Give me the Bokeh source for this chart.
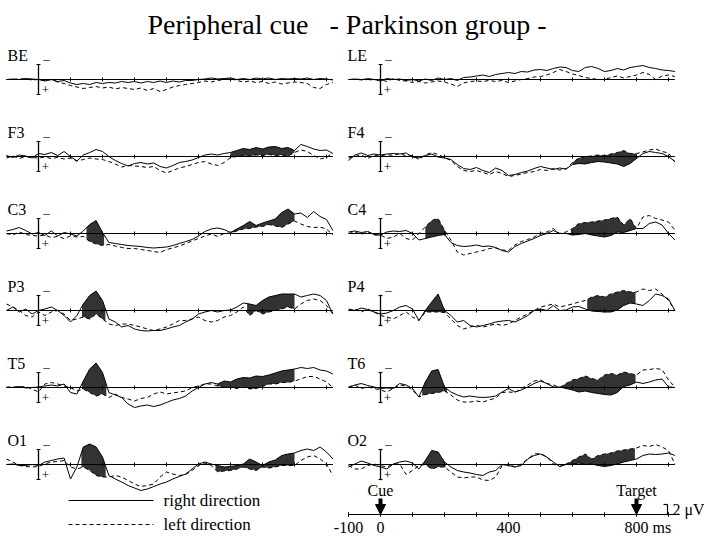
import numpy as np
from bokeh.plotting import figure
from bokeh.models import Range1d, Arrow, NormalHead
from bokeh.core.properties import value
from bokeh.embed import file_html
from bokeh.resources import INLINE

# sample times (ms) of every trace
times = list(range(-100, 921, 20))

# ERP amplitudes in microvolts (negative plotted upward); "right" = right direction (solid), "left" = left direction (dashed)
BE_right = [0, -0.1, 0, -0.2, -0.1, 0, 0.3, 0, 0.4, 0.2, 0.7, 1.0, 0.8, 1.0, 0.6, 0.8, 0.6, 0.7, 0.4, 0.6,
            0.4, 0.7, 0.4, 0.6, 0.3, 0.6, 0.3, 0.5, 0.2, 0.2, 0, -0.1, -0.3, -0.1, -0.2, -0.3, 0, -0.2, 0, -0.3,
            -0.1, -0.3, 0, -0.2, -0.1, -0.2, -0.1, -0.3, 0, -0.2, -0.1, 0.1]
BE_left = [0, 0, -0.1, -0.1, 0.1, 0, 0.2, 0, 0.5, 0.8, 1.2, 1.5, 1.8, 1.6, 1.4, 1.7, 1.5, 1.9, 1.6, 1.8,
           2.0, 1.7, 2.2, 1.8, 2.4, 2.0, 1.5, 1.2, 1.0, 0.8, 0.6, 0.3, 0.5, 0.2, 0, -0.2, 0.2, 0.5, 0.3, 0.6,
           0.4, 0.8, 0.5, 0.9, 0.7, 0.5, 0.6, 0.8, 1.6, 1.8, 1.0, 0.6]
LE_right = [0, -0.1, 0.1, -0.2, 0, 0.3, -0.2, 0, -0.1, 0.2, 0, 0.3, -0.1, 0.2, -0.3, 0, -0.2, 0.2, -0.4, -0.5,
            -0.7, -0.9, -0.6, -1.0, -1.2, -1.4, -1.2, -1.6, -1.5, -1.9, -2.0, -1.8, -2.2, -2.5, -2.4,
            -1.8, -1.6, -2.4, -2.6, -2.2, -1.6, -1.8, -2.2, -1.9, -2.4, -2.6, -2.8, -2.4, -2.2, -1.9, -1.8, -1.6]
LE_left = [0, 0, -0.1, 0.1, 0, 0, 0.4, -0.2, 0.2, 0.3, 0.6, 0.4, 0.7, 0.5, 0.3, 0.5, 0.9, 1.4, 0.7, 0.4,
           0.3, 0.4, 0.2, 0.4, 0.2, 0.6, 0.3, 0, -0.2, -0.5, -0.6, -0.9, -1.4, -2.0, -1.6, -1.1, -0.8, -0.4, -0.2, 0,
           0, -0.4, -0.7, -0.3, -0.6, -0.9, -1.4, -1.0, 0, -0.7, -0.9, -0.6]
F3_right = [-0.2, 0.2, -0.3, -0.1, 0.3, -0.6, -0.4, -0.8, -0.2, -1.0, 0, 0.9, -0.3, -0.8, -1.4, -1.0, 0, 0.8, 1.4, 1.9,
            1.4, 1.2, 1.5, 1.3, 2.0, 2.3, 1.8, 1.2, 1.0, 0.7, 0.2, -0.3, -0.5, -0.3, -0.6, -0.8, -1.2, -1.6, -1.4, -1.8,
            -1.5, -1.9, -2.0, -1.6, -1.8, -1.2, -2.4, -2.0, -1.5, -1.2, -1.3, -0.6]
F3_left = [0.3, -0.1, 0.4, 0, 0.2, 0.3, 0.1, 0.4, 0.2, 0.5, 0.3, 0.9, 0.6, 0.3, 0.5, 0.6, 1.0, 1.5, 2.1, 1.8,
           1.9, 2.0, 2.2, 2.0, 2.8, 3.3, 2.8, 2.3, 2.0, 1.6, 1.2, 1.0, 1.5, 1.8, 1.2, 0.2, 0, -0.2, -0.1, -0.3,
           -0.2, -0.4, -0.2, -0.3, -0.1, -0.8, -1.3, -1.0, -0.2, 0.5, 0.2, -0.7]
F4_right = [0.8, -0.3, -0.7, -0.2, -0.5, -0.3, -0.5, -0.6, -0.5, -0.7, 0.1, 0.3, -0.2, -0.5, 0.1, 0.3, 0.6, 1.6, 2.4, 2.6,
            2.2, 2.8, 3.2, 2.3, 2.8, 3.8, 3.6, 3.2, 2.9, 2.4, 2.0, 2.3, 2.6, 2.3, 2.5, 1.6, 1.4, 1.5, 1.2, 1.0,
            1.1, 1.3, 1.5, 2.0, 1.4, 0.4, -0.6, -1.0, -0.8, -0.6, 0, 1.0]
F4_left = [0.3, 0, -0.3, 0.4, -0.2, -0.1, -0.4, -0.2, -0.6, -0.1, -0.2, 0.6, -0.3, -0.8, -0.4, 0.2, 0.8, 2.0, 2.8, 3.0,
           2.8, 3.2, 3.6, 3.0, 3.4, 4.0, 3.8, 3.5, 3.2, 3.0, 2.6, 2.8, 2.4, 2.7, 2.5, 1.2, 0.3, 0, -0.1, -0.3,
           -0.2, -0.5, -0.8, -1.2, -0.6, -0.6, -0.9, -1.3, -1.5, -1.0, -0.7, 1.1]
C3_right = [-0.5, -0.8, -1.2, -0.6, 0.1, -0.2, 0.4, -0.5, 0.5, -0.2, 0.1, 0.5, -0.5, -1.8, -2.6, -0.2, 1.8, 2.0, 2.2, 2.4,
            2.5, 2.6, 2.8, 2.9, 2.8, 2.7, 2.4, 2.0, 1.6, 1.2, 0.5, -0.4, -0.9, -1.1, -0.8, -0.2, -0.9, -1.6, -2.4, -1.6,
            -2.1, -2.5, -2.9, -4.2, -4.9, -3.9, -4.1, -3.2, -4.4, -3.4, -2.8, -0.6]
C3_left = [0, 0.3, -0.3, 0.2, 0.4, 0.5, 0.3, 0.8, 0.6, 1.0, 0.5, 0.7, 0.6, 1.6, 2.1, 2.4, 2.2, 2.5, 2.8, 3.0,
           3.0, 3.2, 3.4, 3.6, 3.8, 3.2, 2.9, 2.5, 2.0, 1.5, 1.0, 0.5, 0.1, 0.6, 0, -0.1, -0.5, -0.9, -1.0, -1.3,
           -1.4, -1.8, -1.5, -1.2, -1.9, -2.5, -1.9, -1.4, -1.2, -1.3, -0.9, 0.3]
C4_right = [-0.3, -0.5, -0.2, -0.4, 0.2, 0.3, -0.3, -0.5, -0.4, -0.6, 0, 1.3, 1.0, 0.7, 0.4, 0.2, 1.8, 2.4, 2.6, 2.5,
            2.3, 2.6, 2.5, 2.8, 3.4, 3.7, 2.6, 2.0, 1.5, 1.0, 0.4, 0, -0.6, 0, 0, 0.3, 0.2, 0, 0.3, 0.5,
            0.7, 0.4, -0.3, -0.2, -0.6, -1.0, -1.0, -2.0, -2.3, -1.7, 0, 1.3]
C4_left = [0, -0.3, 0.2, -0.4, 0.3, 0.3, 1.0, 0.7, 0, 1.0, 1.3, 0, -1.3, -2.6, -3.0, -0.7, 1.3, 3.7, 4.3, 4.0,
           3.7, 3.4, 3.0, 2.9, 3.3, 3.4, 2.3, 1.6, 1.2, 0.7, 0, -0.3, -1.0, 0, -0.3, -1.0, -2.0, -2.2, -2.3, -2.5,
           -2.7, -3.0, -3.3, -1.7, -3.0, -1.0, -3.3, -3.6, -3.0, -2.7, -2.3, -0.7]
P3_right = [0, -0.7, 0.3, -0.3, 0.7, 0, -0.3, -0.7, 0, 1.0, 2.3, 1.0, -1.3, -3.0, -3.9, -2.0, 1.7, 2.3, 3.3, 3.0,
            3.7, 4.0, 4.1, 4.0, 4.0, 3.7, 3.3, 3.0, 2.3, 1.7, 0.7, 0.3, 0, 0.3, 0, -0.1, -0.7, -1.5, -1.3, -1.0,
            -2.0, -2.7, -3.0, -3.3, -3.3, -3.3, -2.7, -3.0, -3.3, -3.0, -2.0, 0.7]
P3_left = [-1.3, -0.7, 0, 1.0, 1.3, 0.3, 1.0, 0.3, 0, 0.7, 2.0, 1.7, 1.3, 1.7, 0.7, 1.7, 2.7, 3.0, 2.7, 2.7,
           3.0, 3.3, 3.7, 4.0, 3.7, 3.3, 2.7, 2.0, 2.0, 1.7, 1.3, 2.0, 2.3, 2.0, 1.3, 1.0, 0.3, -0.7, 1.0, 0,
           0.7, 0.3, 0, -0.3, -0.7, -0.3, -1.3, -2.0, -2.3, -2.0, -1.0, 0.7]
P4_right = [-0.3, 0, -0.5, -0.2, 0.3, 0.7, 0.5, 0, -0.7, -1.0, -0.3, 2.0, 0, -1.7, -3.3, 0, 1.0, 2.3, 2.0, 3.0,
            3.3, 3.0, 2.7, 2.3, 2.1, 2.0, 2.3, 1.7, 1.0, 0, -0.3, 0, -1.0, 0, -0.1, -0.7, -0.8, -0.3, 0.1, 0.2,
            0.3, 0.3, -0.1, -1.0, -1.5, -1.3, -1.0, -2.0, -3.3, -3.0, -2.3, 0]
P4_left = [0, -0.3, 0.3, -0.3, 0.3, 1.0, 1.3, 1.7, 1.0, 0.3, 1.3, 2.0, 0.3, 0.3, 0.3, 0.4, 1.7, 3.0, 3.7, 3.3,
           3.0, 3.3, 3.0, 2.7, 3.0, 2.7, 2.0, 1.3, 0.7, 0, -0.7, -1.0, -1.3, -0.7, -1.0, -1.3, -1.7, -2.0, -2.7, -3.0,
           -2.7, -3.3, -3.7, -4.0, -3.7, -3.7, -4.3, -4.0, -4.3, -3.3, -2.0, 0]
T5_right = [-0.1, 0, -0.2, 0.1, 0, -0.1, -0.3, -0.5, -0.3, -0.7, 1.0, 1.3, -1.3, -3.7, -4.9, -3.0, 1.0, 1.5, 2.0, 3.3,
            4.0, 3.7, 3.5, 3.8, 3.5, 3.0, 2.5, 2.2, 1.7, 0.7, 0, -0.7, -1.0, -0.7, -1.3, -1.1, -1.7, -2.0, -1.9, -2.3,
            -2.2, -2.5, -2.9, -3.3, -3.5, -3.7, -4.0, -3.8, -4.0, -3.5, -3.3, -2.7]
T5_left = [0, -0.1, -0.1, -0.2, 0.3, 0.9, -0.7, -1.0, -0.7, -0.3, 0, 0.7, 0.3, 1.0, 1.7, 1.3, 2.0, 1.3, 2.0, 2.3,
           2.7, 2.2, 2.0, 1.3, 0.9, 1.3, 1.1, 0.9, 0.7, 0, -0.3, -0.7, -0.7, -0.3, 0, 0, 0.2, -0.3, 0.3, 0.2,
           -0.2, -0.7, -0.7, -1.0, -1.0, -1.3, -1.7, -2.2, -2.2, -1.7, -1.1, 0]
T6_right = [0, -0.5, -0.8, -0.4, -0.1, 0.2, 0.1, 0.2, -0.8, -0.5, 0.2, 1.9, -1.1, -3.3, -3.6, -0.1, 0.9, 1.5, 1.9, 1.7,
            1.9, 2.0, 1.9, 1.7, 0.9, 0.2, 0.9, 0.5, -0.1, -0.8, -1.3, -0.8, -0.1, -0.1, 0.2, 0.5, 0.9, 0.7, 1.0, 1.2,
            1.4, 1.5, 1.0, -0.2, -0.5, -1.1, -0.8, -1.1, -1.5, -1.7, -0.1, 0]
T6_left = [-0.1, -0.5, 0.2, -0.1, 0.2, 0.5, 0.9, 0.2, -0.5, -0.3, 0.5, 1.9, 1.4, 1.2, 1.0, 0.7, 1.5, 2.5, 2.9, 2.9,
           2.7, 2.9, 2.5, 2.1, 1.0, 0.9, 1.0, 0.2, -0.5, -1.3, -1.5, -0.8, -0.5, 0, -0.8, -1.5, -1.8, -2.3, -1.8, -1.5,
           -2.5, -2.8, -2.5, -3.1, -2.8, -2.5, -3.5, -3.6, -3.8, -3.6, -1.5, -0.1]
O1_right = [0, -0.1, 0.2, 0.2, 0, 0.2, -0.5, -0.8, -1.1, -1.3, 2.9, 0.5, -3.5, -4.1, -3.5, -1.5, 2.2, 2.9, 3.5, 4.2,
            4.7, 5.2, 4.9, 4.4, 3.9, 3.5, 2.9, 2.4, 1.9, 0.9, -0.1, -0.5, -0.1, 0.2, 0.5, 0.4, 0.2, -0.1, -1.1, -0.5,
            0.2, -0.5, -0.9, -1.8, -2.1, -2.3, -2.8, -3.1, -2.8, -3.5, -2.5, -1.1]
O1_left = [-1.1, -0.5, 0.2, 0.4, 0.5, 0.4, -0.1, -0.5, -0.6, -0.8, 0.5, 0.9, 0.5, 1.2, 2.2, 2.5, 2.5, 2.2, 2.5, 3.2,
           3.9, 4.4, 4.2, 3.9, 2.5, 1.5, 1.9, 2.2, 2.0, 1.2, 0.2, -0.3, 0.2, 1.5, 1.3, 1.2, 0.9, 0.5, 0.9, 1.2,
           0.5, 0.7, 0.5, 0.2, 0.2, 0.2, -0.8, -1.5, -1.8, -1.1, -0.1, 2.2]
O2_right = [0.5, -0.1, -0.7, -0.3, 0.2, 0.5, 0.9, -0.1, -0.5, -0.7, -0.3, 0.9, -0.8, -2.8, -2.5, -0.5, 0.5, 1.2, 1.5, 1.7,
            2.0, 2.2, 1.5, 1.2, 0, 0.2, 0.5, 0.2, -1.1, -1.8, -2.1, -1.5, -0.5, 0.4, 0, -0.1, -0.3, 0, -0.1, 0.2,
            0.4, 0.2, -0.1, -0.5, -0.8, -1.1, -1.8, -2.1, -2.0, -2.1, -2.3, -1.8]
O2_left = [0.2, 0.9, 0.9, 0.2, -0.1, 0.2, 0.5, -0.1, -0.1, 2.0, 1.2, 0.2, 0, 0.9, 0.5, 0.5, 1.5, 2.5, 2.7, 2.5,
           2.5, 3.1, 3.2, 2.5, 0.2, -0.1, 0.5, -0.1, -1.1, -2.1, -2.2, -1.5, -0.1, 0.4, -0.1, -0.8, -1.5, -2.1, -1.1, -1.8,
           -2.1, -2.3, -2.7, -2.9, -3.1, -3.3, -3.8, -3.6, -4.0, -3.5, -2.8, -0.1]

# significant intervals (ms) shaded between the two traces
BE_sig = []
LE_sig = []
F3_sig = [(600, 800)]
F4_sig = [(600, 800)]
C3_sig = [(150, 205), (600, 800)]
C4_sig = [(140, 205), (595, 797)]
P3_sig = [(136, 209), (652, 800)]
P4_sig = [(135, 203), (646, 797)]
T5_sig = [(136, 212), (558, 800)]
T6_sig = [(130, 208), (557, 797)]
O1_sig = [(134, 210), (553, 800)]
O2_sig = [(130, 203), (560, 795)]

channels = ["BE", "LE", "F3", "F4", "C3", "C4", "P3", "P4", "T5", "T6", "O1", "O2"]
right_dir = [BE_right, LE_right, F3_right, F4_right, C3_right, C4_right, P3_right, P4_right, T5_right, T6_right, O1_right, O2_right]
left_dir = [BE_left, LE_left, F3_left, F4_left, C3_left, C4_left, P3_left, P4_left, T5_left, T6_left, O1_left, O2_left]
sigs = [BE_sig, LE_sig, F3_sig, F4_sig, C3_sig, C4_sig, P3_sig, P4_sig, T5_sig, T6_sig, O1_sig, O2_sig]

axis_ticks = list(range(-100, 901, 100))
axis_labels = {-100: "-100", 0: "0", 400: "400", 800: "800"}
cue_time = 0
target_time = 800
scale_uv = 2
legend_labels = ["right direction", "left direction"]
title_parts = ["Peripheral cue", "- Parkinson group -"]

# ---------------- layout ----------------
W, H = 704, 535
PX_MS = 0.32     # pixels per millisecond
PX_UV = 5.0      # pixels per microvolt
X0 = -38 / PX_MS


def X(px):
    return X0 + px / PX_MS


def Y(py):
    return py / PX_UV


FONT = value("Liberation Serif")
INK = "black"
SHADE = "#333333"

p = figure(width=W, height=H, x_range=Range1d(X0, X0 + W / PX_MS), y_range=Range1d(H / PX_UV, 0),
           output_backend="svg", toolbar_location=None, x_axis_location=None, y_axis_location=None,
           min_border=0)
p.grid.visible = False
p.outline_line_color = None
p.background_fill_color = "white"


def txt(x, y, s, size, align="left", baseline="middle"):
    p.text(x=[x], y=[y], text=[s], text_font=FONT, text_font_size=f"{size}px",
           text_align=align, text_baseline=baseline, text_color=INK)


col_off = [X(38), X(380)]
row_base = [Y(79 + 77 * r) for r in range(6)]

t = np.array(times, dtype=float)
for i, name in enumerate(channels):
    col, row = i % 2, i // 2
    off, b = col_off[col], row_base[row]
    s = np.array(right_dir[i], dtype=float)
    d = np.array(left_dir[i], dtype=float)
    assert len(s) == len(t) and len(d) == len(t), (name, len(s), len(d))
    for a, e in sigs[i]:
        tt = np.linspace(a, e, 120)
        p.varea(x=off + tt, y1=b + np.interp(tt, t, s), y2=b + np.interp(tt, t, d),
                fill_color=SHADE, fill_alpha=1)
    # baseline and ticks
    p.line([off - 100, off + 920], [b, b], line_color=INK, line_width=1.2)
    tk = np.array(axis_ticks[2:], dtype=float)
    p.segment(x0=off + tk, y0=b - 0.4, x1=off + tk, y1=b + 0.4, line_color=INK, line_width=1)
    # amplitude bar at time 0
    p.segment(x0=[off], y0=[b - 3], x1=[off], y1=[b + 3], line_color=INK, line_width=1.3)
    p.segment(x0=[off - 6, off - 6], y0=[b - 3, b + 3], x1=[off + 6, off + 6], y1=[b - 3, b + 3],
              line_color=INK, line_width=1.2)
    # traces
    p.line(off + t, b + s, line_color=INK, line_width=1)
    p.line(off + t, b + d, line_color=INK, line_width=1, line_dash="4 3")
    # labels
    lx = X(7) if col == 0 else X(347)
    txt(lx, b - 4.8, name, 16)
    txt(off + 15, b - 4.2, "–", 13)
    txt(off + 10, b + 2.1, "+", 13)

# title
txt(X(147), Y(24), title_parts[0], 28, baseline="alphabetic")
txt(X(329), Y(24), title_parts[1], 28, baseline="alphabetic")

# legend (left column, below O1)
ly = [Y(500), Y(524)]
p.line([X(68), X(153)], [ly[0], ly[0]], line_color=INK, line_width=1)
p.line([X(68), X(153)], [ly[1], ly[1]], line_color=INK, line_width=1, line_dash="4 3")
txt(X(163), ly[0], legend_labels[0], 17)
txt(X(163), ly[1], legend_labels[1], 17)

# time axis (right column)
off = col_off[1]
ay = Y(514)
p.line([off - 100, off + 920], [ay, ay], line_color=INK, line_width=1.2)
tk = np.array(axis_ticks, dtype=float)
p.segment(x0=off + tk, y0=ay - 0.45, x1=off + tk, y1=ay + 0.45, line_color=INK, line_width=1)
for tv, lab in axis_labels.items():
    txt(off + tv, Y(527), lab, 16, align="center")
txt(X(652), Y(527), "ms", 16)

for tv, lab in [(cue_time, "Cue"), (target_time, "Target")]:
    txt(off + tv, Y(490), lab, 16, align="center")
    p.add_layout(Arrow(end=NormalHead(size=10, fill_color=INK, line_color=INK),
                       x_start=off + tv, y_start=Y(498), x_end=off + tv, y_end=ay,
                       line_color=INK, line_width=4))

# 2 µV calibration bracket
bx = X(667)
p.segment(x0=[bx], y0=[ay - scale_uv], x1=[bx], y1=[ay], line_color=INK, line_width=1.2)
p.segment(x0=[X(663), X(663)], y0=[ay - scale_uv, ay], x1=[bx, bx], y1=[ay - scale_uv, ay],
          line_color=INK, line_width=1.2)
txt(X(672), ay - scale_uv / 2, f"{scale_uv} μV", 16)

open("out.html", "w").write(file_html(p, INLINE, "ERP"))
